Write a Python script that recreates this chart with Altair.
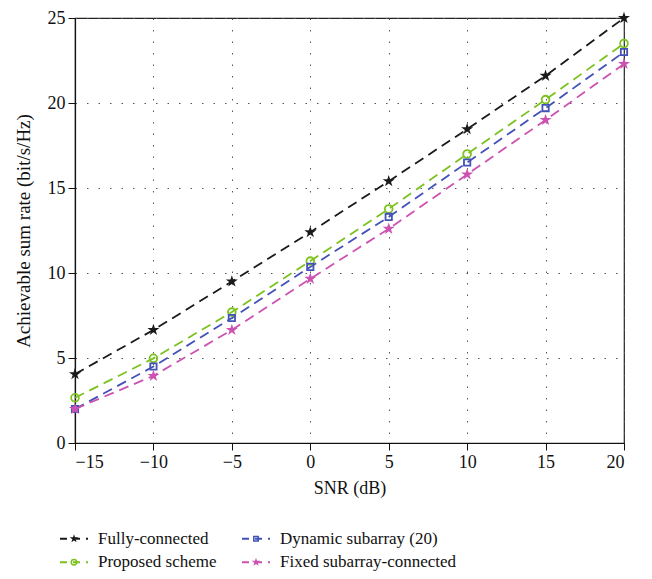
import altair as alt
import pandas as pd

snr = [-15, -10, -5, 0, 5, 10, 15, 20]
fully = [4.05, 6.65, 9.5, 12.4, 15.4, 18.46, 21.6, 25.0]
proposed = [2.66, 4.98, 7.7, 10.7, 13.77, 17.0, 20.2, 23.5]
dynamic = [2.0, 4.5, 7.35, 10.36, 13.3, 16.5, 19.7, 23.0]
fixed = [2.0, 3.95, 6.65, 9.66, 12.6, 15.8, 19.0, 22.3]

names = ["Fully-connected", "Proposed scheme", "Dynamic subarray (20)", "Fixed subarray-connected"]
colors = ["#1a1a1a", "#7cc21f", "#4352b8", "#cc52b2"]
STAR = ("M0,-1L0.225,-0.309L0.951,-0.309L0.363,0.118L0.588,0.809L0,0.382"
        "L-0.588,0.809L-0.363,0.118L-0.951,-0.309L-0.225,-0.309Z")
shapes = [STAR, "circle", "square", STAR]
filled = [True, False, False, True]
sizes = [160, 60, 40, 160]
leg_col = [0, 0, 1, 1]
leg_row = [0, 1, 0, 1]

series = [fully, proposed, dynamic, fixed]
rows = []
for n, vals in zip(names, series):
    for s, v in zip(snr, vals):
        rows.append({"series": n, "snr": s, "rate": v})
df = pd.DataFrame(rows)

FONT = "Liberation Serif"
DASH = [10, 6]

xs = alt.Scale(domain=[-15, 20], nice=False, zero=False)
ys = alt.Scale(domain=[0, 25], nice=False, zero=False)

lines = []
pts = []
for i, n in enumerate(names):
    base = alt.Chart(df).transform_filter(alt.datum.series == n)
    lines.append(base.mark_line(color=colors[i], strokeDash=DASH, strokeWidth=1.8).encode(
        x=alt.X("snr:Q", scale=xs,
                axis=alt.Axis(title="SNR (dB)", values=snr, grid=True, titleFontSize=18)),
        y=alt.Y("rate:Q", scale=ys,
                axis=alt.Axis(title="Achievable sum rate (bit/s/Hz)", values=[0, 5, 10, 15, 20, 25],
                              grid=True, titleFontSize=19)),
    ))
    pts.append(base.mark_point(shape=shapes[i], filled=filled[i], color=colors[i], size=sizes[i],
                               opacity=1, strokeWidth=1.8).encode(
        x=alt.X("snr:Q", scale=xs), y=alt.Y("rate:Q", scale=ys)))

main = alt.layer(*lines, *pts).properties(width=549, height=425)

# legend
leg = pd.DataFrame({"series": names, "col": leg_col, "row": leg_row})
lx = alt.Scale(domain=[0, 549], nice=False, zero=False)
lyy = alt.Scale(domain=[-0.5, 1.5], nice=False, zero=False, reverse=True)
lbase = alt.Chart(leg).transform_calculate(
    x0="-15 + datum.col * 182",
    x1="-15 + datum.col * 182 + 28",
    xm="-15 + datum.col * 182 + 14",
    xt="-15 + datum.col * 182 + 38",
)
leg_lines = []
leg_pts = []
for i, n in enumerate(names):
    b = lbase.transform_filter(alt.datum.series == n)
    leg_lines.append(b.mark_rule(color=colors[i], strokeDash=[7, 6], strokeWidth=1.8).encode(
        x=alt.X("x0:Q", scale=lx, axis=None), x2="x1:Q",
        y=alt.Y("row:Q", scale=lyy, axis=None)))
    leg_pts.append(b.mark_point(shape=shapes[i], filled=filled[i], color=colors[i], size=sizes[i] * 0.5,
                                opacity=1, strokeWidth=1.5).encode(
        x=alt.X("xm:Q", scale=lx, axis=None), y=alt.Y("row:Q", scale=lyy, axis=None)))
leg_text = lbase.mark_text(align="left", baseline="middle", font=FONT, fontSize=17, color="#111").encode(
    x=alt.X("xt:Q", scale=lx, axis=None), y=alt.Y("row:Q", scale=lyy, axis=None), text="series:N")
legend = alt.layer(*leg_lines, *leg_pts, leg_text).properties(
    width=549, height=47, view=alt.ViewConfig(stroke="transparent"))

chart = alt.vconcat(main, legend, spacing=28).properties(
    padding={"left": 5, "top": 0, "right": 5, "bottom": 5}
).configure_view(stroke="#222", strokeWidth=1.2).configure_axis(
    labelFont=FONT, titleFont=FONT, labelFontSize=18,
    titleFontWeight="normal", labelColor="#111", titleColor="#111",
    domainColor="#111", domainWidth=1.2, tickColor="#111", tickSize=7,
    gridColor="#555", gridDash=[1.5, 10], gridWidth=1, gridOpacity=1,
    labelPadding=3,
).configure_axisY(titlePadding=14).configure_axisX(titlePadding=8)

chart.save("out.html", embed_options={"renderer": "svg", "actions": False})
